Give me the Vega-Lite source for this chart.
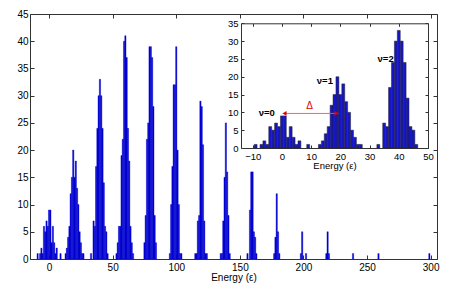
{
  "$schema": "https://vega.github.io/schema/vega-lite/v6.json",
  "width": 407,
  "height": 245,
  "autosize": "none",
  "padding": {"left": 30, "top": 14, "right": 26, "bottom": 38},
  "background": "white",
  "config": {
    "view": {"stroke": null},
    "font": "Liberation Sans",
    "axis": {"grid": false, "labelFont": "Liberation Sans", "titleFont": "Liberation Sans", "labelColor": "#000", "titleColor": "#000", "titleFontWeight": "normal", "domainColor": "#333", "tickColor": "#333", "labelFlush": false, "labelOverlap": false}
  },
  "datasets": {
    "counts": [
      {"lo": -9.5, "hi": -8.5, "n": 1}, {"lo": -7.5, "hi": -6.5, "n": 1}, {"lo": -6.5, "hi": -5.5, "n": 2}, {"lo": -5.5, "hi": -4.5, "n": 1},
      {"lo": -4.5, "hi": -3.5, "n": 6}, {"lo": -3.5, "hi": -2.5, "n": 5}, {"lo": -2.5, "hi": -1.5, "n": 7}, {"lo": -1.5, "hi": -0.5, "n": 6},
      {"lo": -0.5, "hi": 0.5, "n": 9}, {"lo": 0.5, "hi": 1.5, "n": 9}, {"lo": 1.5, "hi": 2.5, "n": 3}, {"lo": 2.5, "hi": 3.5, "n": 6},
      {"lo": 3.5, "hi": 4.5, "n": 3}, {"lo": 4.5, "hi": 5.5, "n": 1}, {"lo": 5.5, "hi": 6.5, "n": 2}, {"lo": 8.5, "hi": 9.5, "n": 1},
      {"lo": 12.5, "hi": 13.5, "n": 1}, {"lo": 13.5, "hi": 14.5, "n": 2}, {"lo": 14.5, "hi": 15.5, "n": 4}, {"lo": 15.5, "hi": 16.5, "n": 6},
      {"lo": 16.5, "hi": 17.5, "n": 12}, {"lo": 17.5, "hi": 18.5, "n": 15}, {"lo": 18.5, "hi": 19.5, "n": 20}, {"lo": 19.5, "hi": 20.5, "n": 15},
      {"lo": 20.5, "hi": 21.5, "n": 18}, {"lo": 21.5, "hi": 22.5, "n": 13}, {"lo": 22.5, "hi": 23.5, "n": 10}, {"lo": 23.5, "hi": 24.5, "n": 5},
      {"lo": 24.5, "hi": 25.5, "n": 3}, {"lo": 25.5, "hi": 26.5, "n": 1}, {"lo": 26.5, "hi": 27.5, "n": 1},
      {"lo": 32.5, "hi": 33.5, "n": 1}, {"lo": 34.5, "hi": 35.5, "n": 7}, {"lo": 35.5, "hi": 36.5, "n": 6}, {"lo": 36.5, "hi": 37.5, "n": 17},
      {"lo": 37.5, "hi": 38.5, "n": 24}, {"lo": 38.5, "hi": 39.5, "n": 30}, {"lo": 39.5, "hi": 40.5, "n": 33}, {"lo": 40.5, "hi": 41.5, "n": 30},
      {"lo": 41.5, "hi": 42.5, "n": 24}, {"lo": 42.5, "hi": 43.5, "n": 14}, {"lo": 43.5, "hi": 44.5, "n": 6}, {"lo": 44.5, "hi": 45.5, "n": 5},
      {"lo": 45.5, "hi": 46.5, "n": 1},
      {"lo": 52.5, "hi": 53.5, "n": 1}, {"lo": 53.5, "hi": 54.5, "n": 3}, {"lo": 54.5, "hi": 55.5, "n": 6}, {"lo": 55.5, "hi": 56.5, "n": 6},
      {"lo": 56.5, "hi": 57.5, "n": 19}, {"lo": 57.5, "hi": 58.5, "n": 22}, {"lo": 58.5, "hi": 59.5, "n": 40}, {"lo": 59.5, "hi": 60.5, "n": 41},
      {"lo": 60.5, "hi": 61.5, "n": 37}, {"lo": 61.5, "hi": 62.5, "n": 24}, {"lo": 62.5, "hi": 63.5, "n": 18}, {"lo": 63.5, "hi": 64.5, "n": 6},
      {"lo": 64.5, "hi": 65.5, "n": 3}, {"lo": 65.5, "hi": 66.5, "n": 1},
      {"lo": 74.5, "hi": 75.5, "n": 3}, {"lo": 75.5, "hi": 76.5, "n": 8}, {"lo": 76.5, "hi": 77.5, "n": 22}, {"lo": 77.5, "hi": 78.5, "n": 25},
      {"lo": 78.5, "hi": 79.5, "n": 39}, {"lo": 79.5, "hi": 80.5, "n": 39}, {"lo": 80.5, "hi": 81.5, "n": 37}, {"lo": 81.5, "hi": 82.5, "n": 28},
      {"lo": 82.5, "hi": 83.5, "n": 8}, {"lo": 83.5, "hi": 84.5, "n": 3},
      {"lo": 94.5, "hi": 95.5, "n": 1}, {"lo": 95.5, "hi": 96.5, "n": 10}, {"lo": 96.5, "hi": 97.5, "n": 17}, {"lo": 97.5, "hi": 98.5, "n": 32},
      {"lo": 98.5, "hi": 99.5, "n": 32}, {"lo": 99.5, "hi": 100.5, "n": 39}, {"lo": 100.5, "hi": 101.5, "n": 20}, {"lo": 101.5, "hi": 102.5, "n": 10},
      {"lo": 102.5, "hi": 103.5, "n": 1}, {"lo": 103.5, "hi": 104.5, "n": 1},
      {"lo": 114.5, "hi": 115.5, "n": 1}, {"lo": 115.5, "hi": 116.5, "n": 1}, {"lo": 116.5, "hi": 117.5, "n": 7}, {"lo": 117.5, "hi": 118.5, "n": 8},
      {"lo": 118.5, "hi": 119.5, "n": 29}, {"lo": 119.5, "hi": 120.5, "n": 28}, {"lo": 120.5, "hi": 121.5, "n": 21}, {"lo": 121.5, "hi": 122.5, "n": 7},
      {"lo": 122.5, "hi": 123.5, "n": 1}, {"lo": 123.5, "hi": 124.5, "n": 1},
      {"lo": 134.5, "hi": 135.5, "n": 1}, {"lo": 135.5, "hi": 136.5, "n": 1}, {"lo": 136.5, "hi": 137.5, "n": 7}, {"lo": 137.5, "hi": 138.5, "n": 15},
      {"lo": 138.5, "hi": 139.5, "n": 25}, {"lo": 139.5, "hi": 140.5, "n": 16}, {"lo": 140.5, "hi": 141.5, "n": 8}, {"lo": 141.5, "hi": 142.5, "n": 1},
      {"lo": 155.5, "hi": 156.5, "n": 1}, {"lo": 157.5, "hi": 158.5, "n": 9}, {"lo": 158.5, "hi": 159.5, "n": 16}, {"lo": 159.5, "hi": 160.5, "n": 16},
      {"lo": 160.5, "hi": 161.5, "n": 5}, {"lo": 161.5, "hi": 162.5, "n": 4}, {"lo": 162.5, "hi": 163.5, "n": 1},
      {"lo": 176.5, "hi": 177.5, "n": 1}, {"lo": 177.5, "hi": 178.5, "n": 4}, {"lo": 178.5, "hi": 179.5, "n": 12}, {"lo": 179.5, "hi": 180.5, "n": 5},
      {"lo": 180.5, "hi": 181.5, "n": 1},
      {"lo": 197.5, "hi": 198.5, "n": 1}, {"lo": 198.5, "hi": 199.5, "n": 5}, {"lo": 201.5, "hi": 202.5, "n": 1},
      {"lo": 217.5, "hi": 218.5, "n": 1}, {"lo": 218.5, "hi": 219.5, "n": 5}, {"lo": 219.5, "hi": 220.5, "n": 1},
      {"lo": 238.5, "hi": 239.5, "n": 1}, {"lo": 258.5, "hi": 259.5, "n": 1}, {"lo": 298.5, "hi": 299.5, "n": 1}
    ]
  },
  "layer": [
    {
      "data": {"name": "counts"},
      "mark": {"type": "rect", "color": "#0000d0", "stroke": "#0000d0", "strokeWidth": 0.4},
      "encoding": {
        "x": {"field": "lo", "type": "quantitative", "scale": {"domain": [-15, 305], "nice": false, "zero": false},
          "axis": {"orient": "bottom", "values": [0, 50, 100, 150, 200, 250, 300], "title": "Energy (ε)", "labelFontSize": 10, "titleFontSize": 10, "tickSize": -4, "labelPadding": 7, "titlePadding": 0}},
        "x2": {"field": "hi"},
        "y": {"field": "n", "type": "quantitative", "scale": {"domain": [0, 45], "nice": false},
          "axis": {"orient": "left", "values": [0, 5, 10, 15, 20, 25, 30, 35, 40, 45], "title": null, "labelFontSize": 10, "tickSize": -4, "labelPadding": 6}},
        "y2": {"datum": 0}
      }
    },
    {
      "data": {"name": "counts"},
      "mark": {"type": "point", "opacity": 0},
      "encoding": {
        "x": {"field": "lo", "type": "quantitative", "scale": {"domain": [-15, 305], "nice": false, "zero": false},
          "axis": {"orient": "top", "values": [0, 50, 100, 150, 200, 250, 300], "labels": false, "title": null, "tickSize": -4}},
        "y": {"field": "n", "type": "quantitative", "scale": {"domain": [0, 45], "nice": false},
          "axis": {"orient": "right", "values": [0, 5, 10, 15, 20, 25, 30, 35, 40, 45], "labels": false, "title": null, "tickSize": -4}}
      }
    },
    {
      "data": {"name": "counts"},
      "transform": [{"filter": "datum.hi <= 50"}],
      "mark": {"type": "rect", "color": "#1616c8", "stroke": "#222222", "strokeWidth": 0.5},
      "encoding": {
        "x": {"field": "lo", "type": "quantitative", "scale": {"domain": [-14, 50], "range": [211, 398], "nice": false, "zero": false},
          "axis": {"orient": "bottom", "offset": -111, "values": [-10, 0, 10, 20, 30, 40, 50], "title": "Energy (ε)", "labelFontSize": 9.5, "titleFontSize": 9.5, "tickSize": -3, "labelPadding": 6, "titlePadding": 0}},
        "x2": {"field": "hi"},
        "y": {"field": "n", "type": "quantitative", "scale": {"domain": [0, 35], "range": [134, 9.3], "nice": false},
          "axis": {"orient": "left", "offset": -211, "values": [0, 5, 10, 15, 20, 25, 30, 35], "title": null, "labelFontSize": 9.5, "tickSize": -3, "labelPadding": 6}},
        "y2": {"datum": 0}
      }
    },
    {
      "data": {"name": "counts"},
      "transform": [{"filter": "datum.hi <= 50"}],
      "mark": {"type": "point", "opacity": 0},
      "encoding": {
        "x": {"field": "lo", "type": "quantitative", "scale": {"domain": [-14, 50], "range": [211, 398], "nice": false, "zero": false},
          "axis": {"orient": "top", "offset": -9.3, "values": [-10, 0, 10, 20, 30, 40, 50], "labels": false, "title": null, "tickSize": -3}},
        "y": {"field": "n", "type": "quantitative", "scale": {"domain": [0, 35], "range": [134, 9.3], "nice": false},
          "axis": {"orient": "right", "offset": -9, "values": [0, 5, 10, 15, 20, 25, 30, 35], "labels": false, "title": null, "tickSize": -3}}
      }
    },
    {
      "data": {"values": [{"e": -5.2, "n": 9.8, "t": "ν=0"}, {"e": 14.7, "n": 18.8, "t": "ν=1"}, {"e": 35.5, "n": 24.9, "t": "ν=2"}]},
      "mark": {"type": "text", "fontSize": 9.5, "fontWeight": "bold", "color": "#000", "align": "center", "baseline": "middle"},
      "encoding": {
        "x": {"field": "e", "type": "quantitative", "scale": {"domain": [-14, 50], "range": [211, 398], "nice": false, "zero": false}, "axis": null},
        "y": {"field": "n", "type": "quantitative", "scale": {"domain": [0, 35], "range": [134, 9.3], "nice": false}, "axis": null},
        "text": {"field": "t"}
      }
    },
    {
      "data": {"values": [{"e": 9.5, "n": 11.8, "t": "Δ"}]},
      "mark": {"type": "text", "fontSize": 10, "color": "#e00000", "align": "center", "baseline": "middle"},
      "encoding": {
        "x": {"field": "e", "type": "quantitative", "scale": {"domain": [-14, 50], "range": [211, 398], "nice": false, "zero": false}, "axis": null},
        "y": {"field": "n", "type": "quantitative", "scale": {"domain": [0, 35], "range": [134, 9.3], "nice": false}, "axis": null},
        "text": {"field": "t"}
      }
    },
    {
      "data": {"values": [{"a": 0.3, "b": 19.3, "n": 9.7}]},
      "mark": {"type": "rule", "color": "#ff5050", "strokeWidth": 0.9},
      "encoding": {
        "x": {"field": "a", "type": "quantitative", "scale": {"domain": [-14, 50], "range": [211, 398], "nice": false, "zero": false}, "axis": null},
        "x2": {"field": "b"},
        "y": {"field": "n", "type": "quantitative", "scale": {"domain": [0, 35], "range": [134, 9.3], "nice": false}, "axis": null}
      }
    },
    {
      "data": {"values": [{"e": 0.9, "n": 9.7}]},
      "mark": {"type": "point", "shape": "triangle-left", "filled": true, "size": 22, "color": "#e00000", "opacity": 1},
      "encoding": {
        "x": {"field": "e", "type": "quantitative", "scale": {"domain": [-14, 50], "range": [211, 398], "nice": false, "zero": false}, "axis": null},
        "y": {"field": "n", "type": "quantitative", "scale": {"domain": [0, 35], "range": [134, 9.3], "nice": false}, "axis": null}
      }
    },
    {
      "data": {"values": [{"e": 18.7, "n": 9.7}]},
      "mark": {"type": "point", "shape": "triangle-right", "filled": true, "size": 22, "color": "#e00000", "opacity": 1},
      "encoding": {
        "x": {"field": "e", "type": "quantitative", "scale": {"domain": [-14, 50], "range": [211, 398], "nice": false, "zero": false}, "axis": null},
        "y": {"field": "n", "type": "quantitative", "scale": {"domain": [0, 35], "range": [134, 9.3], "nice": false}, "axis": null}
      }
    }
  ],
  "resolve": {"scale": {"x": "independent", "y": "independent"}, "axis": {"x": "independent", "y": "independent"}}
}
